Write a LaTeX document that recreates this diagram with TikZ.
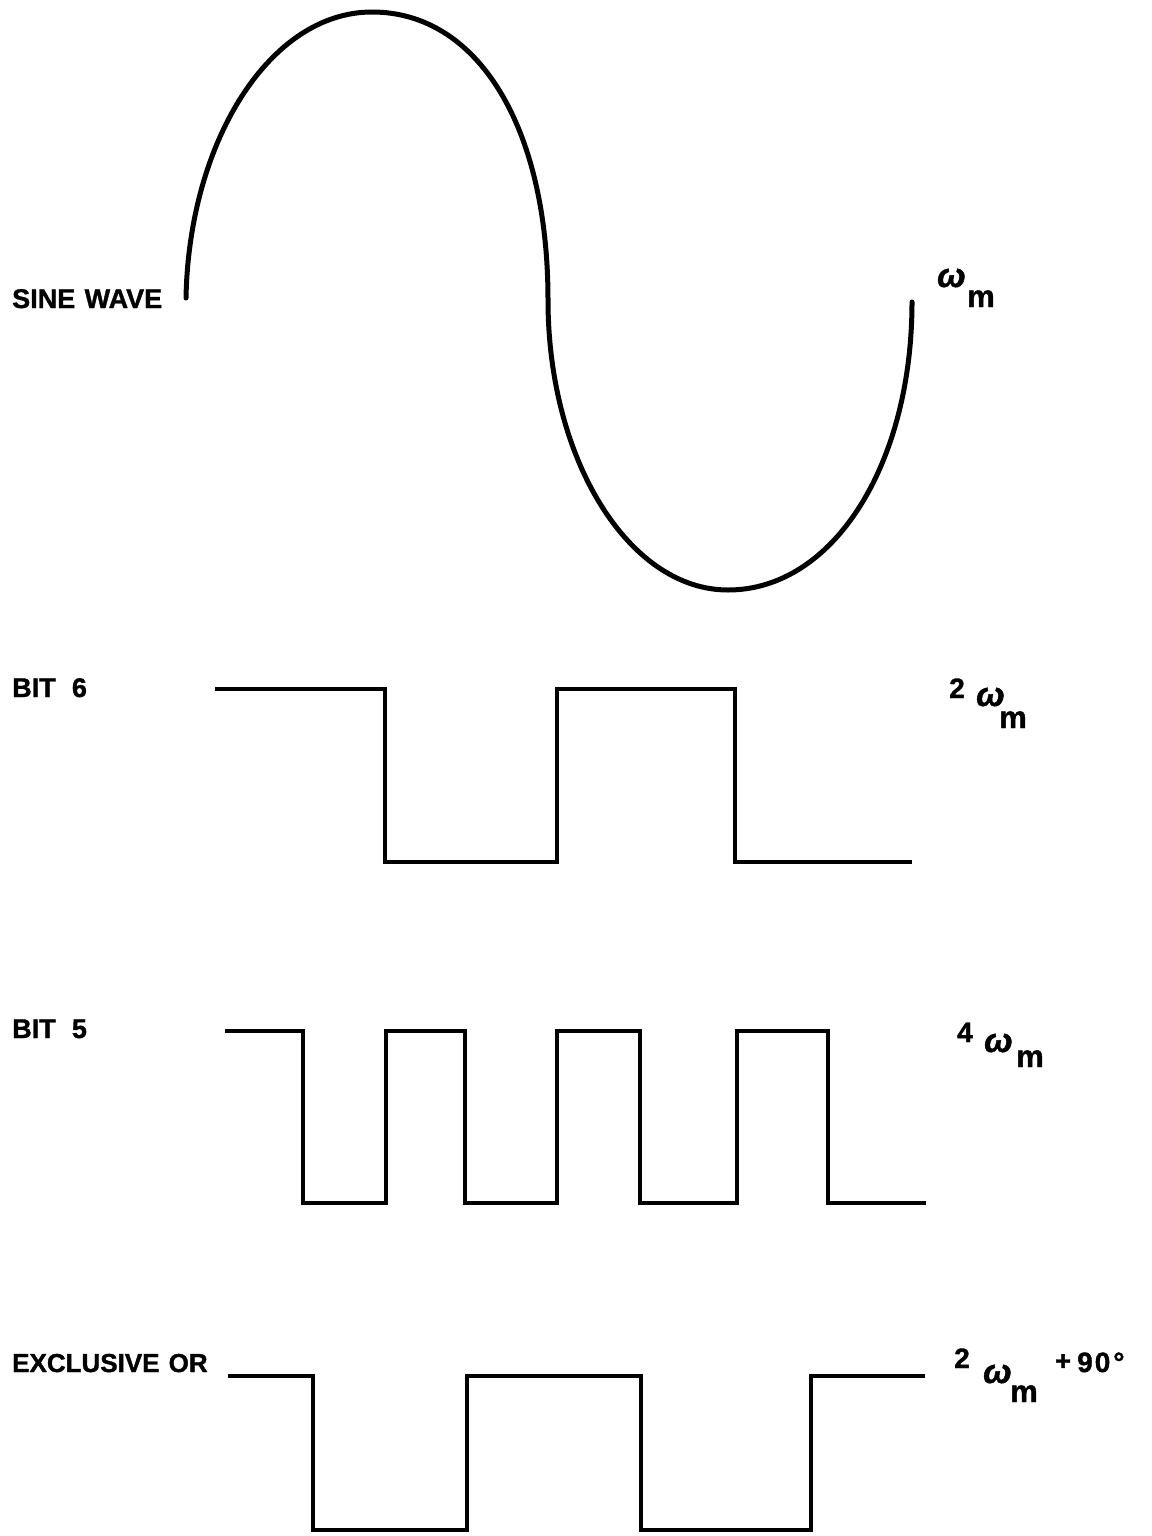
\documentclass[tikz,border=0pt]{standalone}
\usepackage{fontspec}
\setmainfont{Liberation Sans}
\newfontfamily\lblfont[FakeBold=1.2]{Liberation Sans Bold}
\newfontfamily\omfont[FakeBold=1.2]{Liberation Sans Bold Italic}
\begin{document}
\begin{tikzpicture}[x=1pt,y=-1pt,
  lbl/.style={inner sep=0pt,anchor=base west,font=\fontsize{27}{30}\lblfont},
  num/.style={inner sep=0pt,anchor=base west,font=\fontsize{28}{30}\lblfont},
  sub/.style={inner sep=0pt,anchor=base west,font=\fontsize{31}{34}\lblfont},
  om/.style={inner sep=0pt,anchor=base west,font=\fontsize{34}{38}\omfont},
  wave/.style={line width=4.5pt,line join=miter,line cap=butt},
  sinewave/.style={line width=5pt,line cap=round}]
\useasboundingbox (0,0) rectangle (1151,1536);
\fill[white] (0,0) rectangle (1151,1536);
% sine wave
\coordinate (s0) at (186,298);
\coordinate (s1) at (372,12);
\coordinate (s2) at (548,300);
\coordinate (s3) at (728,590);
\coordinate (s4) at (912,302);
\draw[sinewave] (s0) .. controls (189,141) and (270,12) .. (s1)
  .. controls (478,12) and (548,127) .. (s2)
  .. controls (548,460) and (629,590) .. (s3)
  .. controls (833,590) and (912,465) .. (s4);
\node[lbl] (sw) at (12,308) {SINE\hspace{0.35em}WAVE};
\node[om] (w1) at (937,287) {ω};
\node[sub] (m1) at (967,307) {m};
% bit 6
\draw[wave] (215,689) -- (385,689) -- (385,862) -- (557,862) -- (557,689) -- (735,689) -- (735,862) -- (912,862);
\node[lbl] (b6) at (12,697) {BIT\hspace{0.6em}6};
\node[num] (t2) at (949,698) {2};
\node[om] (w2) at (976,706) {ω};
\node[sub] (m2) at (999,728) {m};
% bit 5
\draw[wave] (225,1031) -- (303,1031) -- (303,1203) -- (386,1203) -- (386,1031) -- (465,1031) -- (465,1203) -- (557,1203) -- (557,1031) -- (640,1031) -- (640,1203) -- (737,1203) -- (737,1031) -- (828,1031) -- (828,1203) -- (926,1203);
\node[lbl] (b5) at (12,1038) {BIT\hspace{0.6em}5};
\node[num] (t4) at (957,1042) {4};
\node[om] (w4) at (984,1052) {ω};
\node[sub] (m4) at (1016,1067) {m};
% exclusive or
\draw[wave] (228,1376) -- (313,1376) -- (313,1530) -- (467,1530) -- (467,1376) -- (641,1376) -- (641,1530) -- (811,1530) -- (811,1376) -- (925,1376);
\node[lbl,font=\fontsize{26}{30}\lblfont] (xo) at (12,1372) {EXCLUSIVE\hspace{0.35em}OR};
\node[num] (t2b) at (954,1368) {2};
\node[om] (w2b) at (983,1383) {ω};
\node[sub] (m2b) at (1010,1402) {m};
\node[lbl] (pl) at (1055,1370) {+};
\node[num] (p90) at (1077,1372) {9\kern2pt0\kern3pt°};
\end{tikzpicture}
\end{document}
